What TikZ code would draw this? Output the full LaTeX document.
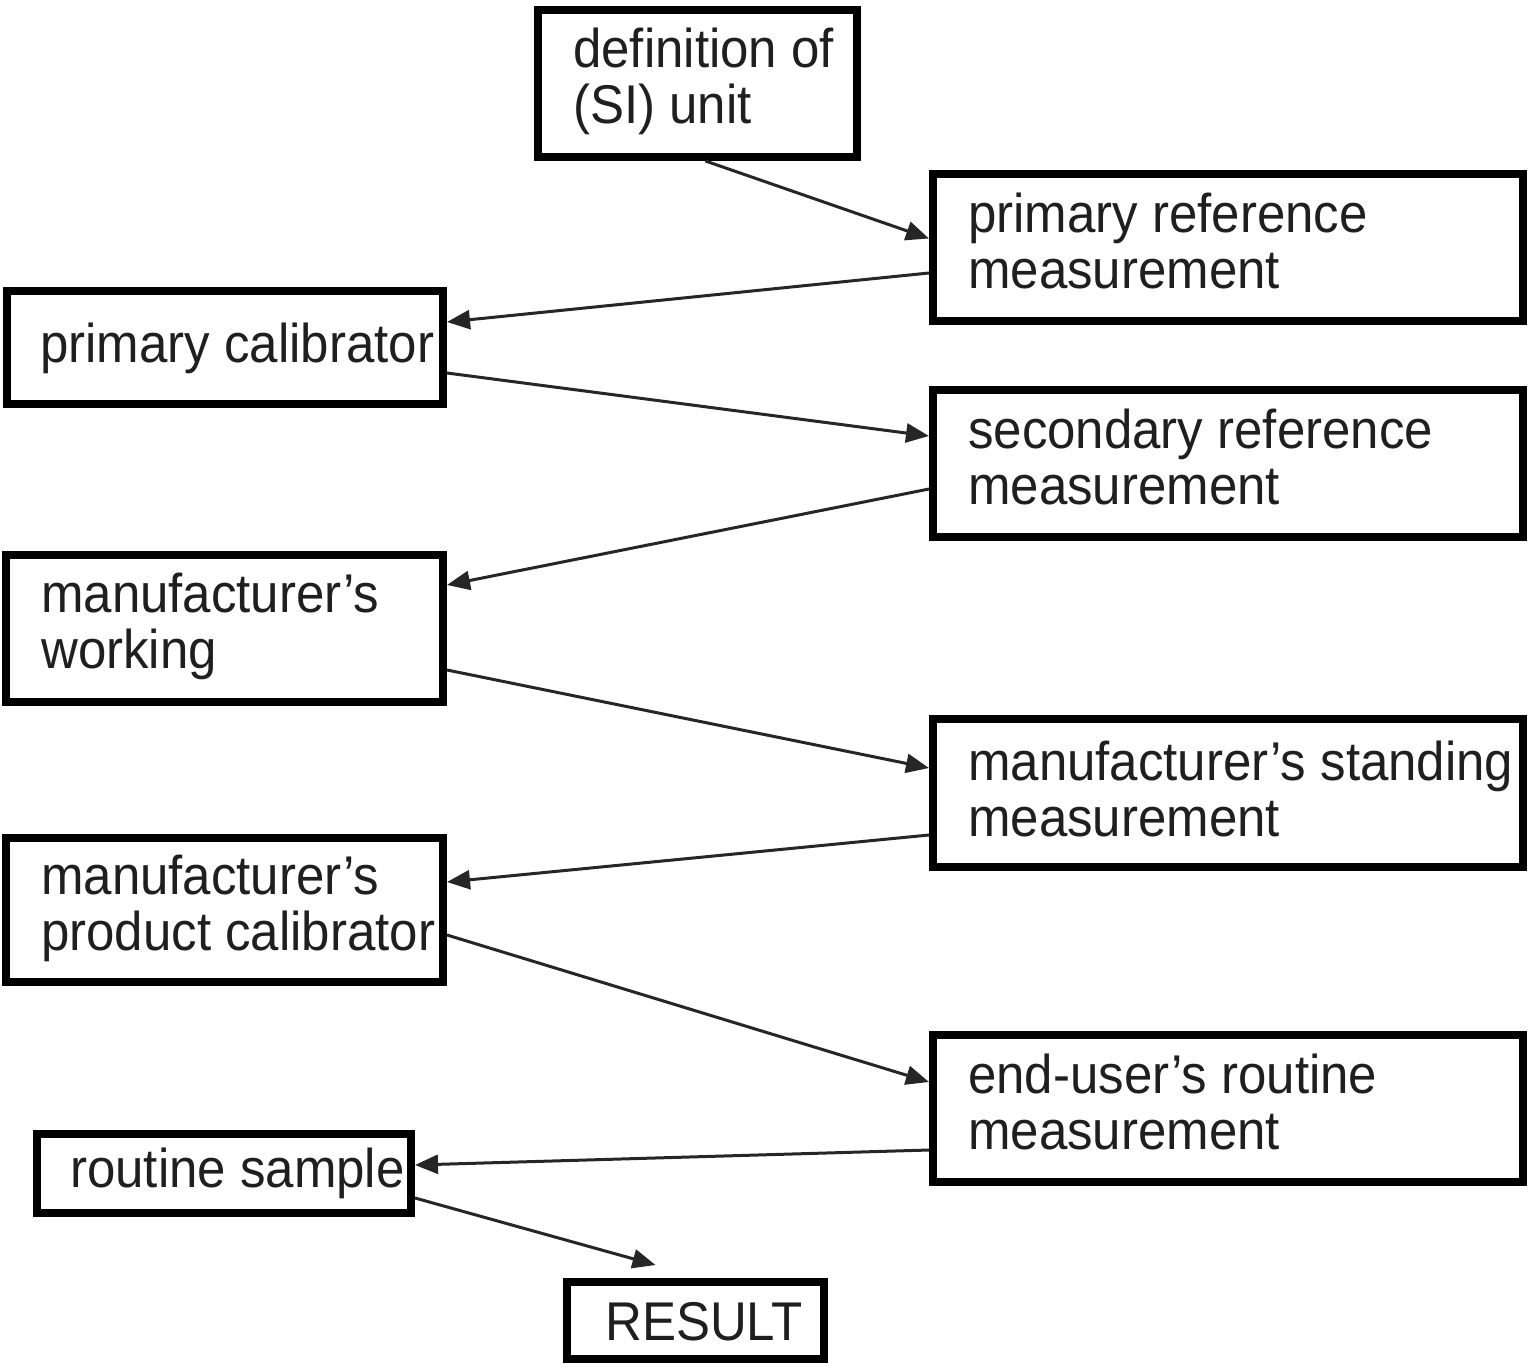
\documentclass[tikz,border=0pt]{standalone}
\usepackage{fontspec}
\usepackage{graphicx}
\setmainfont{Liberation Sans}
\usetikzlibrary{arrows.meta,calc}
% slightly tall lettering, scaled about the first baseline
\newcommand{\tallbox}[1]{\scalebox{1}[1.07]{#1}}
\newcommand{\twolines}[3]{\tallbox{\parbox[t]{#1}{\raggedright #2\\#3}}}
\begin{document}
\begin{tikzpicture}[x=1pt,y=-1pt,
  box/.style={draw=black, line width=8pt, inner sep=0pt, fill=white},
  txt/.style={anchor=base west, inner sep=0pt, text=black!88,
    font=\fontsize{51}{52.5}\selectfont},
  flow/.style={line width=3pt, black!85, -{Triangle[length=23pt,width=19pt]}}]
\useasboundingbox (0,0) rectangle (1529,1366);

% frames of the chain, centre coordinates and sizes along the line centre
\node[box, minimum width=319pt, minimum height=147pt] (defn)   at (697.5,83.5)  {};
\node[box, minimum width=590pt, minimum height=147pt] (prm)    at (1228,247.5)  {};
\node[box, minimum width=436pt, minimum height=113pt] (pcal)   at (225,347.5)   {};
\node[box, minimum width=590pt, minimum height=147pt] (srm)    at (1228,463.5)  {};
\node[box, minimum width=437pt, minimum height=147pt] (mwork)  at (224.5,628.5) {};
\node[box, minimum width=590pt, minimum height=148pt] (msm)    at (1228,793)    {};
\node[box, minimum width=437pt, minimum height=144pt] (mprod)  at (224.5,910)   {};
\node[box, minimum width=590pt, minimum height=147pt] (eurm)   at (1228,1108.5) {};
\node[box, minimum width=374pt, minimum height=79pt]  (rsamp)  at (224,1173.5)  {};
\node[box, minimum width=257pt, minimum height=77pt]  (result) at (695.5,1320.5){};

% labels, placed on the baseline of their first line
\node[txt] (defn-t)   at (573,67)   {\twolines{300pt}{definition of}{(SI) unit}};
\node[txt] (prm-t)    at (968,232)  {\twolines{560pt}{primary reference}{measurement}};
\node[txt] (pcal-t)   at (40,362)   {\tallbox{primary calibrator}};
\node[txt] (srm-t)    at (968,448)  {\twolines{560pt}{secondary reference}{measurement}};
\node[txt] (mwork-t)  at (41,612)   {\twolines{420pt}{manufacturer’s}{working}};
\node[txt] (msm-t)    at (968,780)  {\twolines{560pt}{manufacturer’s standing}{measurement}};
\node[txt] (mprod-t)  at (41,894)   {\twolines{420pt}{manufacturer’s}{product calibrator}};
\node[txt] (eurm-t)   at (968,1093) {\twolines{560pt}{end-user’s routine}{measurement}};
\node[txt] (rsamp-t)  at (70,1187)  {\tallbox{routine sample}};
\node[txt] (result-t) at (605,1340) {\tallbox{RESULT}};

% traceability arrows
\draw[flow] ($(defn.south)+(8,0)$)     -- ($(prm.west)+(0,-9)$);
\draw[flow] ($(prm.west)+(0,25.5)$)    -- ($(pcal.east)+(0,-25.5)$);
\draw[flow] ($(pcal.east)+(0,25.5)$)   -- ($(srm.west)+(0,-27.5)$);
\draw[flow] ($(srm.west)+(0,25.5)$)    -- ($(mwork.east)+(0,-43.5)$);
\draw[flow] ($(mwork.east)+(0,41.5)$)  -- ($(msm.west)+(0,-25)$);
\draw[flow] ($(msm.west)+(0,42)$)      -- ($(mprod.east)+(0,-28)$);
\draw[flow] ($(mprod.east)+(0,25)$)    -- ($(eurm.west)+(0,-26.5)$);
\draw[flow] ($(eurm.west)+(0,41.5)$)   -- ($(rsamp.east)+(0,-8.5)$);
\draw[flow] ($(rsamp.east)+(0,24.5)$)  -- ($(result.north)+(-40,-13)$);
\end{tikzpicture}
\end{document}
